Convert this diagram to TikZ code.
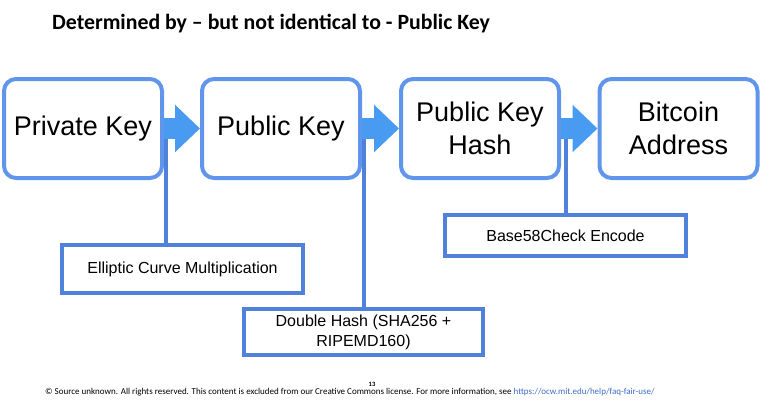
\documentclass[tikz,border=0pt]{standalone}
\usepackage{fontspec}
\setmainfont{Liberation Sans}
\newfontfamily\titlefont{Carlito}
\usetikzlibrary{arrows.meta}
\definecolor{boxblue}{RGB}{95,150,235}
\definecolor{lineblue}{RGB}{80,130,220}
\definecolor{arrowblue}{RGB}{72,155,240}
\definecolor{linkblue}{RGB}{60,110,200}
\begin{document}
\begin{tikzpicture}[x=1pt, y=-1pt,
    keybox/.style={rectangle, rounded corners=12pt, draw=boxblue, line width=4pt, fill=white,
        minimum width=158pt, minimum height=99pt, align=center, inner sep=0pt,
        font=\fontsize{27}{33}\selectfont},
    opbox/.style={rectangle, draw=lineblue, line width=3.5pt, fill=white,
        minimum width=241pt, align=center, inner sep=0pt,
        font=\fontsize{16}{20}\selectfont},
    link/.style={draw=lineblue, line width=4pt},
    flow/.style={draw=arrowblue, line width=21pt, -{Triangle[length=25pt, width=46pt]}}
]
\useasboundingbox (0,0) rectangle (784,404);
% Title
\node[anchor=base west, inner sep=0pt, font=\titlefont\bfseries\fontsize{21.8}{24}\selectfont] (title) at (52,30)
    {Determined by \textendash{} but not identical to - Public Key};

% Key boxes
\node[keybox] (priv) at (83,128.5) {Private Key};
\node[keybox] (pub) at (281,128.5) {Public Key};
\node[keybox] (pkh) at (480,128.5) {Public Key\\Hash};
\node[keybox] (addr) at (678.5,128.5) {Bitcoin\\Address};

% Operations
\node[opbox, minimum height=48pt] (ecm) at (182.5,269) {Elliptic Curve Multiplication};
\node[opbox, minimum width=239pt, minimum height=46pt] (dh) at (363.5,332) {Double Hash (SHA256 +\\RIPEMD160)};
\node[opbox, minimum height=41pt] (b58) at (565.5,235.5) {Base58Check Encode};

% Links
\draw[link] ([xshift=2pt]priv.east) -- ([xshift=2pt]priv.east |- ecm.north);
\draw[link] ([xshift=2pt]pub.east) -- ([xshift=2pt]pub.east |- dh.north);
\draw[link] ([xshift=5pt]pkh.east) -- ([xshift=5pt]pkh.east |- b58.north);

% Flow arrows
\draw[flow] (priv.east) -- (pub.west);
\draw[flow] (pub.east) -- (pkh.west);
\draw[flow] (pkh.east) -- (addr.west);

% Footer
\node[anchor=base west, inner sep=0pt, font=\titlefont\fontsize{9}{10}\selectfont] (foot) at (45,394)
    {\textcopyright{} Source unknown. All rights reserved. This content is excluded from our Creative Commons license. For more information, see \textcolor{linkblue}{https://ocw.mit.edu/help/faq-fair-use/}};
\node[anchor=base, inner sep=0pt, font=\titlefont\bfseries\fontsize{6.5}{7}\selectfont] (page) at (372,386.5) {13};
\end{tikzpicture}
\end{document}
